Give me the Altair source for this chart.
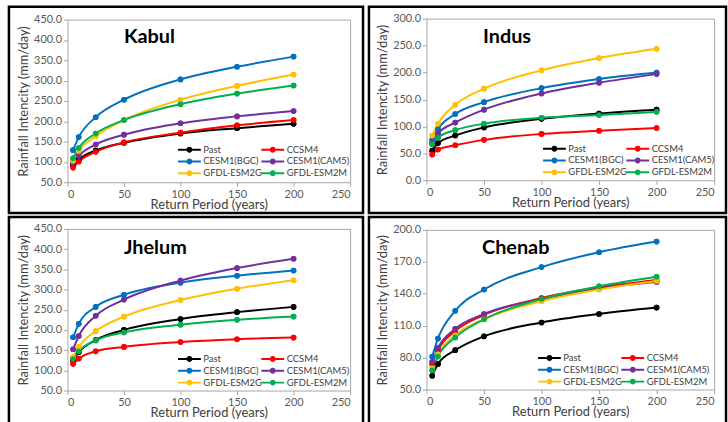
import altair as alt
import pandas as pd

periods = [5, 10, 25, 50, 100, 150, 200]
models = ["Past", "CCSM4", "CESM1(BGC)", "CESM1(CAM5)", "GFDL-ESM2G", "GFDL-ESM2M"]
colors = ["#000000", "#ff0000", "#0070c0", "#7030a0", "#ffc000", "#00b050"]

kabul = {
    "Past":        [92, 106, 128, 147, 170, 183, 194],
    "CCSM4":       [86, 101, 125, 148, 172, 190, 203],
    "CESM1(BGC)":  [129, 161, 210, 253, 303, 334, 359],
    "CESM1(CAM5)": [97, 115, 143, 167, 195, 212, 225],
    "GFDL-ESM2G":  [103, 127, 163, 203, 253, 287, 315],
    "GFDL-ESM2M":  [109, 134, 170, 203, 242, 268, 288],
}
indus = {
    "Past":        [55, 69, 83, 98, 114, 124, 131],
    "CCSM4":       [48, 57, 65, 75, 86, 92, 97],
    "CESM1(BGC)":  [75, 95, 123, 145, 171, 188, 200],
    "CESM1(CAM5)": [70, 87, 107, 131, 161, 181, 197],
    "GFDL-ESM2G":  [83, 105, 140, 170, 204, 227, 244],
    "GFDL-ESM2M":  [67, 79, 93, 105, 116, 121, 127],
}
jhelum = {
    "Past":        [125, 145, 175, 200, 227, 244, 257],
    "CCSM4":       [116, 129, 147, 158, 170, 177, 181],
    "CESM1(BGC)":  [182, 215, 257, 287, 317, 334, 347],
    "CESM1(CAM5)": [152, 185, 235, 275, 322, 353, 376],
    "GFDL-ESM2G":  [132, 158, 197, 233, 274, 302, 323],
    "GFDL-ESM2M":  [128, 147, 174, 194, 213, 225, 233],
}
chenab = {
    "Past":        [63, 74, 87, 100, 113, 121, 127],
    "CCSM4":       [74, 87, 105, 120, 136, 146, 153],
    "CESM1(BGC)":  [81, 98, 124, 144, 165, 179, 189],
    "CESM1(CAM5)": [76, 89, 107, 121, 135, 145, 151],
    "GFDL-ESM2G":  [70, 83, 101, 116, 133, 144, 152],
    "GFDL-ESM2M":  [68, 81, 99, 116, 135, 147, 156],
}

x_ticks = [0, 50, 100, 150, 200, 250]
kabul_ticks = [50, 100, 150, 200, 250, 300, 350, 400, 450]
indus_ticks = [0, 50, 100, 150, 200, 250, 300]
chenab_ticks = [50, 80, 110, 140, 170, 200]

FONT = "Lato"
GRAY = "#a6a6a6"
SYMBOL = ("M-2,-0.17 H-0.5 V0.17 H-2 Z M0.5,-0.17 H2 V0.17 H0.5 Z "
          "M0.52,0 A0.52,0.52 0 1,0 -0.52,0 A0.52,0.52 0 1,0 0.52,0 Z")


def panel(name, vals, ydom, yticks, W, H, xr, yr, tdx, lx, ly):
    rows = []
    for m in models:
        for p, v in zip(periods, vals[m]):
            rows.append({"model": m, "period": p, "value": v})
    df = pd.DataFrame(rows)
    xs = alt.Scale(domain=[0, 250], range=xr, nice=False)
    ys = alt.Scale(domain=ydom, range=yr, nice=False, zero=False)
    cs = alt.Scale(domain=models, range=colors)
    leg = alt.Legend(
        orient="none", legendX=lx, legendY=ly, columns=2, direction="horizontal",
        title=None, symbolType=SYMBOL, symbolSize=132, symbolStrokeWidth=0,
        symbolOpacity=1, labelFont=FONT, labelFontSize=9.5,
        labelColor="#404040", labelOffset=8, columnPadding=-2,
        rowPadding=1, padding=0)
    color = alt.Color("model:N", scale=cs, sort=models, legend=leg)
    ax_style = dict(labelFont=FONT, labelFontSize=11, labelColor="#595959",
                    tickColor=GRAY, tickSize=4, domainColor=GRAY, grid=False,
                    titleFont=FONT, titleFontSize=13, titleFontWeight="normal",
                    titleColor="#404040", labelPadding=2)
    xaxis = alt.Axis(values=x_ticks, format="d", title="Return Period (years)",
                     offset=yr[0] - H, titlePadding=-1, **ax_style)
    yaxis = alt.Axis(values=yticks, format=".1f", title="Rainfall Intencity (mm/day)",
                     offset=-xr[0], titlePadding=3, **ax_style)
    xtop = alt.Axis(orient="top", labels=False, ticks=False, title=None,
                    domainColor=GRAY, grid=False, offset=-yr[1])
    yright = alt.Axis(orient="right", labels=False, ticks=False, title=None,
                      domainColor=GRAY, grid=False, offset=xr[1] - W)
    base = alt.Chart(df)
    frame = base.mark_point(opacity=0).encode(
        x=alt.X("period:Q", scale=xs, axis=xtop),
        y=alt.Y("value:Q", scale=ys, axis=yright),
    )
    pts_under = base.mark_circle(size=32, opacity=1).encode(
        x=alt.X("period:Q", scale=xs, axis=None),
        y=alt.Y("value:Q", scale=ys, axis=None),
        color=color,
    )
    line = base.mark_line(interpolate="monotone", strokeWidth=2).encode(
        x=alt.X("period:Q", scale=xs, axis=xaxis),
        y=alt.Y("value:Q", scale=ys, axis=yaxis),
        color=color,
        order=alt.Order("period:Q"),
    )
    pts = base.mark_circle(size=32, opacity=1).encode(
        x=alt.X("period:Q", scale=xs, axis=None),
        y=alt.Y("value:Q", scale=ys, axis=None),
        color=color,
    )
    return alt.layer(frame, pts_under, line, pts).resolve_axis(
        x="independent", y="independent").properties(
        width=W, height=H,
        title=alt.TitleParams(text=name, anchor="start", dx=tdx, dy=57,
                              offset=0, baseline="alphabetic", font=FONT,
                              fontSize=20, fontWeight="bold", color="black"))


p1 = panel("Kabul", kabul, [50, 450], kabul_ticks, 357, 208, [59, 344], [177, 13], 116, 176, 138)
p2 = panel("Indus", indus, [0, 300], indus_ticks, 360, 208, [58, 348], [175, 12], 115, 181, 137)
p3 = panel("Jhelum", jhelum, [50, 450], kabul_ticks, 357, 208, [59, 344], [175, 12], 116, 176, 137)
p4 = panel("Chenab", chenab, [50, 200], chenab_ticks, 360, 208, [58, 348], [174, 13], 114, 176, 136)

top = alt.hconcat(p1, p2, spacing=2).resolve_scale(color="independent").resolve_legend(color="independent")
bottom = alt.hconcat(p3, p4, spacing=2).resolve_scale(color="independent").resolve_legend(color="independent")

chart = alt.vconcat(top, bottom, spacing=0).resolve_scale(
    color="independent").resolve_legend(color="independent").properties(
    padding={"left": 7, "top": 3, "right": 0, "bottom": 0},
    background="white",
).configure_view(stroke="black", strokeWidth=2.5)

chart.save("out.html", embed_options={"renderer": "svg", "actions": False})
